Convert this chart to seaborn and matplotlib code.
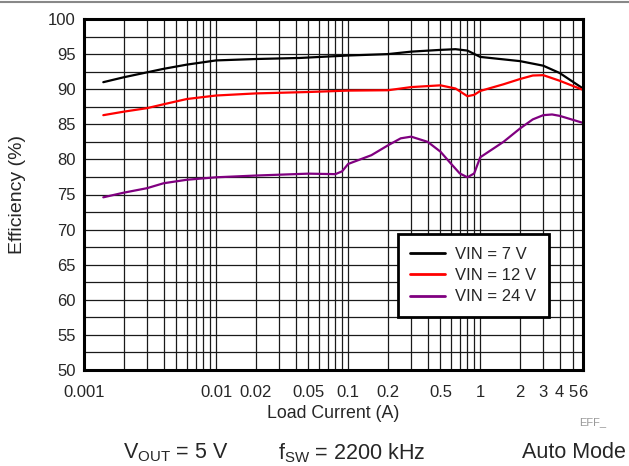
import numpy as np
import pandas as pd
import matplotlib
matplotlib.use("Agg")
import matplotlib.pyplot as plt
from matplotlib.ticker import FixedLocator, FixedFormatter, LogLocator, MultipleLocator, NullFormatter
import seaborn as sns

# efficiency curves (load current in A, efficiency in %)
x_7v = [0.0014, 0.002, 0.004, 0.006, 0.01, 0.02, 0.043, 0.1, 0.2, 0.3, 0.5, 0.65, 0.8, 1.0, 2.0, 3.0, 4.0, 6.0]
eff_7v = [91.0, 91.7, 92.9, 93.5, 94.1, 94.3, 94.45, 94.8, 95.0, 95.35, 95.6, 95.7, 95.5, 94.6, 94.0, 93.35, 92.3, 90.1]

x_12v = [0.0014, 0.002, 0.003, 0.004, 0.006, 0.01, 0.02, 0.05, 0.1, 0.2, 0.3, 0.5, 0.65, 0.8, 0.9, 1.0, 1.5, 2.0, 2.5, 3.0, 4.0, 6.0]
eff_12v = [86.3, 86.8, 87.3, 87.85, 88.6, 89.1, 89.4, 89.6, 89.8, 89.85, 90.3, 90.55, 90.1, 89.0, 89.2, 89.75, 90.7, 91.45, 91.95, 92.0, 91.2, 89.9]

x_24v = [0.0014, 0.002, 0.003, 0.004, 0.006, 0.01, 0.02, 0.05, 0.08, 0.09, 0.1, 0.15, 0.2, 0.25, 0.3, 0.4, 0.5, 0.6, 0.7, 0.8, 0.9, 1.0, 1.5, 2.0, 2.5, 3.0, 3.5, 4.0, 6.0]
eff_24v = [74.6, 75.26, 75.9, 76.6, 77.1, 77.45, 77.7, 77.97, 77.9, 78.3, 79.35, 80.6, 82.0, 83.0, 83.24, 82.5, 81.1, 79.4, 78.0, 77.45, 78.0, 80.3, 82.5, 84.4, 85.7, 86.3, 86.4, 86.2, 85.2]

series_names = ["VIN = 7 V", "VIN = 12 V", "VIN = 24 V"]
series_colors = ["#000000", "#ff0000", "#800080"]

x_ticks = [0.001, 0.01, 0.02, 0.05, 0.1, 0.2, 0.5, 1, 2, 3, 4, 5, 6]
x_ticklabels = ["0.001", "0.01", "0.02", "0.05", "0.1", "0.2", "0.5", "1", "2", "3", "4", "5", "6"]

frames = []
for name, xs, ys in zip(series_names, [x_7v, x_12v, x_24v], [eff_7v, eff_12v, eff_24v]):
    frames.append(pd.DataFrame({"current": xs, "eff": ys, "series": name}))
df = pd.concat(frames, ignore_index=True)

sns.set_style("white")
plt.rcParams["font.family"] = ["Liberation Sans", "DejaVu Sans"]
plt.rcParams["mathtext.fontset"] = "custom"
plt.rcParams["mathtext.rm"] = "Liberation Sans"

fig = plt.figure(figsize=(6.29, 4.66), dpi=100)
ax = fig.add_axes([84 / 629, 1 - 370 / 466, 499 / 629, 351 / 466])

sns.lineplot(data=df, x="current", y="eff", hue="series", hue_order=series_names,
             palette=series_colors, linewidth=1.6, sort=False, ax=ax)

ax.set_xscale("log")
ax.set_xlim(0.001, 6)
ax.set_ylim(50, 100)

# grid: decades and 2..9, y every 2.5
ax.xaxis.set_minor_locator(LogLocator(base=10, subs=np.arange(2, 10)))
ax.xaxis.set_minor_formatter(NullFormatter())
ax.xaxis.set_major_locator(FixedLocator(x_ticks))
ax.xaxis.set_major_formatter(FixedFormatter(x_ticklabels))
ax.yaxis.set_major_locator(MultipleLocator(5))
ax.yaxis.set_minor_locator(MultipleLocator(2.5))
ax.grid(which="both", axis="both", color="#1a1a1a", linewidth=0.9)
ax.tick_params(which="both", length=0, labelsize=12)
ax.tick_params(axis="x", pad=11)
ax.tick_params(axis="y", pad=6)

for s in ax.spines.values():
    s.set_linewidth(2.2)
    s.set_color("black")

ax.set_xlabel("Load Current (A)", fontsize=12.75)
ax.set_ylabel("Efficiency (%)", fontsize=14)
ax.xaxis.set_label_coords(0.5, (370 - 414) / 351)
ax.xaxis.label.set_va("center")
ax.yaxis.set_label_coords((18 - 84) / 499, 0.5)
ax.yaxis.label.set_va("center")

leg = ax.legend(loc="center", bbox_to_anchor=((473.5 - 84) / 499, (370 - 275.5) / 351), fontsize=12,
                fancybox=False, framealpha=1, edgecolor="black", handlelength=2.1,
                labelspacing=0.38, borderpad=0.75, handletextpad=0.6)
leg.get_frame().set_linewidth(2)
for line in leg.get_lines():
    line.set_linewidth(2)

fig.text(606 / 629, 1 - 422 / 466, "EFF_", fontsize=8, color="#999999", ha="right", va="center")
fig.text(123 / 629, 1 - 453 / 466, r"V$_{\mathrm{OUT}}$ = 5 V", fontsize=15.5, ha="left", va="center")
fig.text(278 / 629, 1 - 453 / 466, r"f$_{\mathrm{SW}}$ = 2200 kHz", fontsize=15.5, ha="left", va="center")
fig.text(626 / 629, 1 - 453 / 466, "Auto Mode", fontsize=15.5, ha="right", va="center")
fig.add_artist(plt.Line2D([0, 1], [1 - 1.5 / 466, 1 - 1.5 / 466], color="#888888", linewidth=1.5))

fig.savefig("out.png", dpi=100)
